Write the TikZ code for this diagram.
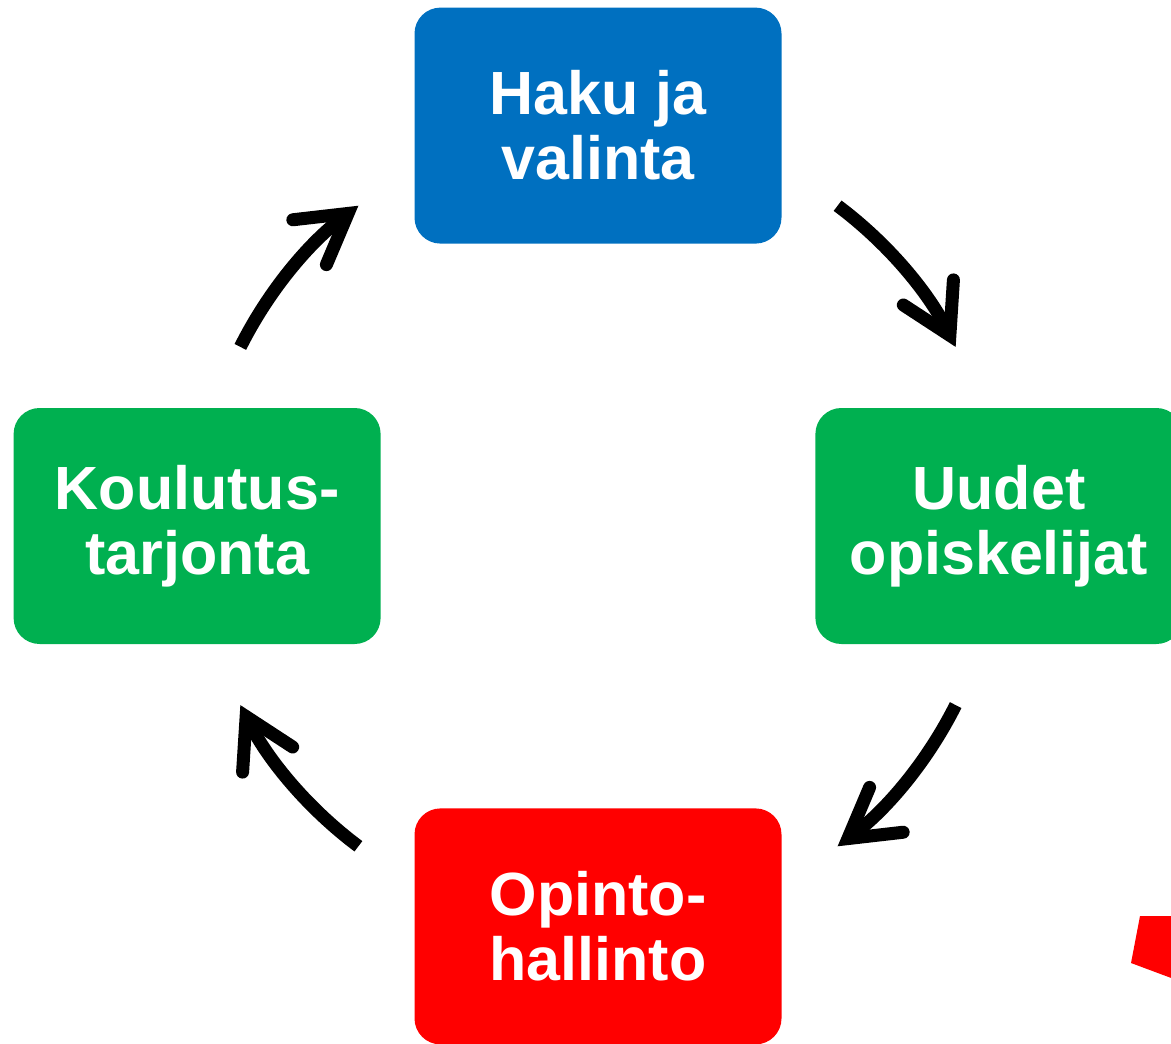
\documentclass[tikz,border=0pt]{standalone}
\usepackage{fontspec}
\setmainfont{Liberation Sans}
\usepackage{tikz}
\usetikzlibrary{positioning,arrows.meta}

\definecolor{hakublue}{HTML}{0070C0}
\definecolor{phasegreen}{HTML}{00B050}
\definecolor{phasered}{HTML}{FF0000}

\begin{document}
\begin{tikzpicture}[x=0.5pt,y=0.5pt,
		phase/.style={rounded corners=13pt, minimum width=183.5pt, minimum height=118pt,
			inner sep=0pt, align=center, text=white,
			font=\fontsize{30.5}{32.5}\selectfont\bfseries},
		cycle arrow/.style={line width=6.5pt,
			-{Straight Barb[length=24pt,width=28pt,line cap=round,line join=miter]}}]
		\clip (0,0) rectangle (1171,-1043);
		\coordinate (hub) at (598,-526);
		\node [phase, fill=hakublue, above=141pt of hub] (haku) {Haku ja\\valinta};
		\node [phase, fill=phasegreen, right=108.5pt of hub] (uudet) {Uudet\\opiskelijat};
		\node [phase, fill=phasered, below=141pt of hub] (opinto) {Opinto-\\hallinto};
		\node [phase, fill=phasegreen, left=108.5pt of hub] (koulutus) {Koulutus-\\tarjonta};
		% arrows round the cycle
		\coordinate (a1) at ([shift={(153.4:400)}]hub);
		\coordinate (a2) at ([shift={(53.2:400)}]hub);
		\coordinate (a3) at ([shift={(-26.6:400)}]hub);
		\coordinate (a4) at ([shift={(-126.8:400)}]hub);
		\draw [cycle arrow] (a1) arc [start angle=153.4, end angle=126.8, radius=400];
		\draw [cycle arrow] (a2) arc [start angle=53.2, end angle=26.6, radius=400];
		\draw [cycle arrow] (a3) arc [start angle=-26.6, end angle=-53.2, radius=400];
		\draw [cycle arrow] (a4) arc [start angle=-126.8, end angle=-153.4, radius=400];
		\fill [phasered] (1140,-916) -- (1190,-916) -- (1190,-985) -- (1131,-963) -- cycle;
	\end{tikzpicture}
\end{document}
